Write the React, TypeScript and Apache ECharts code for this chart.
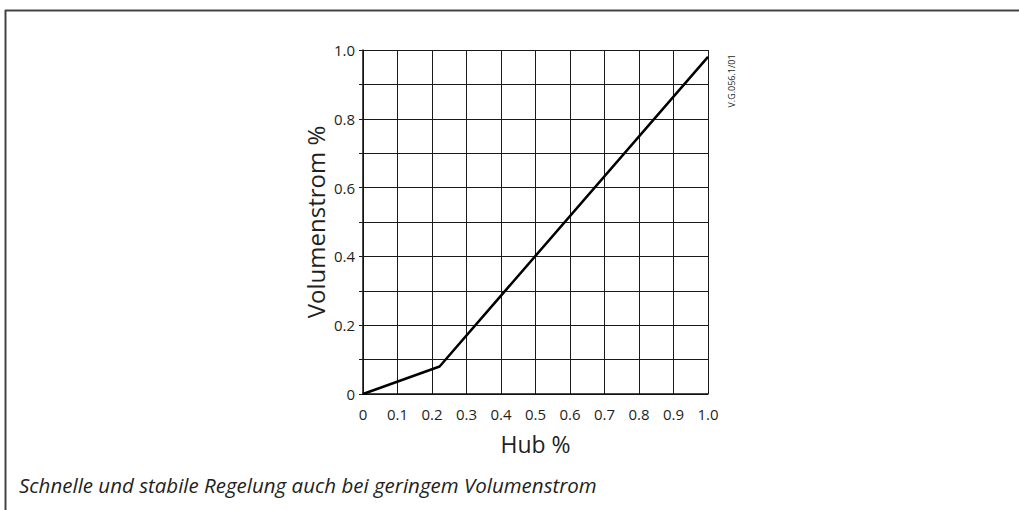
import React, { useEffect, useRef } from "react";
import * as echarts from "echarts";

const hub: number[] = [0, 0.222, 1.0];
const volumenstrom: number[] = [0, 0.08, 0.98];
const xTitle = "Hub %";
const yTitle = "Volumenstrom %";
const caption = "Schnelle und stabile Regelung auch bei geringem Volumenstrom";
const code = "V.G.056.1/01";

const FONT = "'Open Sans', 'Noto Sans', sans-serif";
const TXT = "#231f20";

export default function App() {
  const ref = useRef<HTMLDivElement>(null);
  useEffect(() => {
    if (!ref.current) return;
    const chart = echarts.init(ref.current, null, { renderer: "svg" });
    const fmt = (v: number) => (Math.abs(v) < 1e-9 ? "0" : v.toFixed(1));
    chart.setOption({
      animation: false,
      backgroundColor: "#ffffff",
      grid: { left: 363, top: 50, width: 345, height: 344, containLabel: false },
      xAxis: {
        type: "value",
        min: 0,
        max: 1,
        interval: 0.1,
        name: xTitle,
        nameLocation: "middle",
        nameGap: 38,
        nameTextStyle: { fontSize: 23, color: TXT, fontFamily: FONT },
        axisLine: { show: true, lineStyle: { color: "#111", width: 1.5 } },
        axisTick: { show: false },
        axisLabel: {
          margin: 12,
          fontSize: 15,
          color: TXT,
          fontFamily: FONT,
          formatter: (v: number) => fmt(v),
        },
        splitLine: { show: true, lineStyle: { color: "#1a1a1a", width: 1 } },
      },
      yAxis: {
        type: "value",
        min: 0,
        max: 1,
        interval: 0.1,
        name: yTitle,
        nameLocation: "middle",
        nameGap: 36,
        nameTextStyle: { fontSize: 24, color: TXT, fontFamily: FONT },
        axisLine: { show: true, lineStyle: { color: "#111", width: 1.5 } },
        axisTick: { show: true, length: 4, lineStyle: { color: "#1a1a1a" } },
        axisLabel: {
          margin: 8,
          fontSize: 15,
          color: TXT,
          fontFamily: FONT,
          formatter: (v: number) => {
            const k = Math.round(v * 10);
            return k % 2 === 0 ? fmt(v) : "";
          },
        },
        splitLine: { show: true, lineStyle: { color: "#1a1a1a", width: 1 } },
      },
      series: [
        {
          type: "line",
          data: hub.map((x, i) => [x, volumenstrom[i]]),
          symbol: "none",
          lineStyle: { color: "#000", width: 2.5 },
        },
      ],
      graphic: [
        {
          type: "line",
          shape: { x1: 5, y1: 10.5, x2: 1019, y2: 10.5 },
          style: { stroke: "#444", lineWidth: 2 },
        },
        {
          type: "line",
          shape: { x1: 5.5, y1: 10, x2: 5.5, y2: 510 },
          style: { stroke: "#444", lineWidth: 2 },
        },
        {
          type: "text",
          x: 731,
          y: 81,
          rotation: Math.PI / 2,
          style: {
            text: code,
            fontSize: 9,
            fontFamily: FONT,
            fill: TXT,
            textAlign: "center",
            textVerticalAlign: "middle",
          },
        },
        {
          type: "text",
          left: 19,
          top: 475,
          style: {
            text: caption,
            fontSize: 20.5,
            fontStyle: "italic",
            fontFamily: FONT,
            fill: TXT,
          },
        },
      ],
    });
    return () => chart.dispose();
  }, []);
  return (
    <div
      ref={ref}
      style={{ position: "absolute", left: 0, top: 0, width: 1019, height: 510 }}
    />
  );
}
